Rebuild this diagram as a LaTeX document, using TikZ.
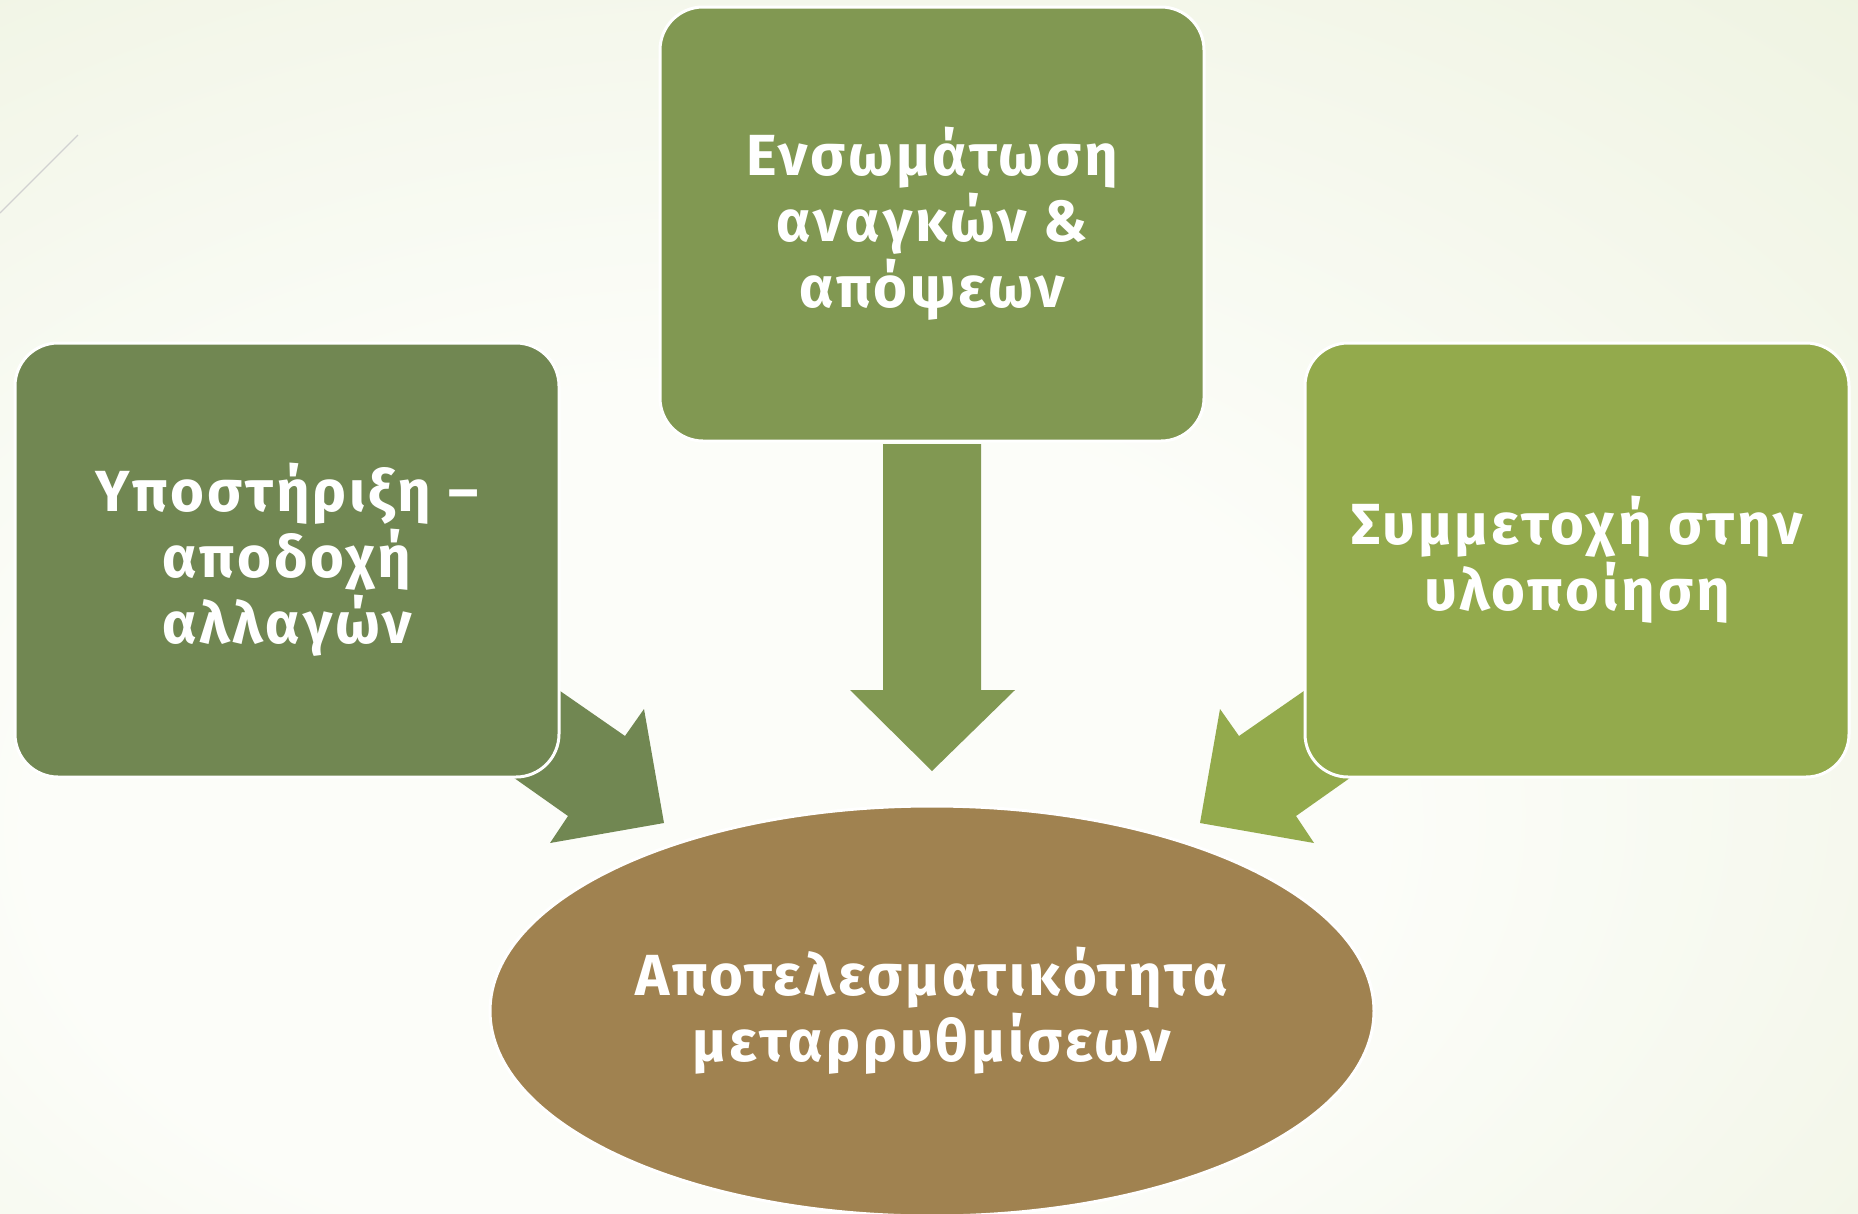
\documentclass[tikz,border=0pt]{standalone}
\usepackage{fontspec}
\setmainfont{Fira Sans}
\newfontfamily\gfont[LetterSpace=5]{Fira Sans}
\usetikzlibrary{shapes.geometric}
\definecolor{bgin}{HTML}{FCFDF9}
\definecolor{bgout}{HTML}{DDE6C2}
\definecolor{cTop}{HTML}{819852}
\definecolor{cLeft}{HTML}{718752}
\definecolor{cRight}{HTML}{93AA4C}
\definecolor{cOval}{HTML}{A08250}
\pgfdeclareradialshading{bgshade}{\pgfpoint{-8bp}{-12bp}}{color(0bp)=(bgin); color(18bp)=(bgin); color(75bp)=(bgout)}
\tikzset{
  card/.style={rectangle, rounded corners=43pt, minimum width=544pt, minimum height=434pt,
    draw=white, line width=3pt, text=white, align=center,
    font=\gfont\bfseries\fontsize{58}{66}\selectfont},
  oval/.style={ellipse, minimum width=884pt, minimum height=410pt, inner sep=0pt,
    draw=white, line width=3pt, fill=cOval, text=white, align=center,
    font=\gfont\bfseries\fontsize{58}{66}\selectfont}
}
\begin{document}
\begin{tikzpicture}[x=1pt,y=-1pt]
\useasboundingbox (0,0) rectangle (1858,1213);
\fill[shading=bgshade] (0,0) rectangle (1858,1213);
\draw[black!18, line width=1.2pt] (0,213) -- (78,135);
% block arrows
\fill[cTop] (883,444) -- (981,444) -- (981,690) -- (1015,690) -- (932,771) -- (850,690) -- (883,690) -- cycle;
\fill[cLeft] (513,658) -- (563,693) -- (625,736) -- (644,709) -- (664,823) -- (550,843) -- (568,816) -- (517,780) -- (467,745) -- cycle;
\fill[cRight] (1351,658) -- (1301,693) -- (1239,736) -- (1220,709) -- (1200,823) -- (1314,843) -- (1296,816) -- (1347,780) -- (1397,745) -- cycle;
% boxes
\node[card, fill=cTop] (top) at (932,224) {Ενσωμάτωση\\αναγκών \&\\απόψεων};
\node[card, fill=cLeft] (left) at (287,560) {Υποστήριξη –\\αποδοχή\\αλλαγών};
\node[card, fill=cRight] (right) at (1577,560) {Συμμετοχή στην\\υλοποίηση};
\node[oval] (goal) at (932,1011) {Αποτελεσματικότητα\\μεταρρυθμίσεων};
\end{tikzpicture}
\end{document}
